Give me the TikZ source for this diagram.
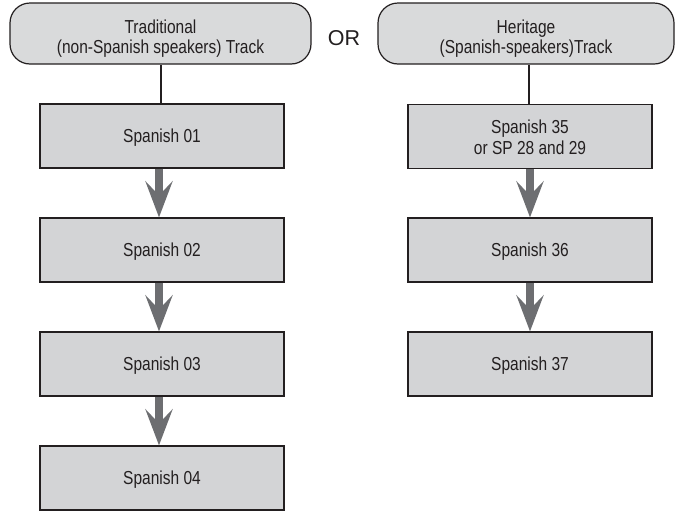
\documentclass[tikz,border=0pt]{standalone}
\usepackage{fontspec}
\setmainfont{Liberation Sans}[FakeStretch=0.825]
\newfontfamily\orfont{Liberation Sans}
\usetikzlibrary{arrows.meta}
\definecolor{boxgray}{HTML}{D3D4D6}
\definecolor{headgray}{HTML}{D9DADB}
\definecolor{arrowgray}{HTML}{6D6E71}
\definecolor{edgecol}{HTML}{231F20}
\newcommand{\lift}[1]{\rule{0pt}{#1}}
\begin{document}
\begin{tikzpicture}[x=1pt,y=-1pt,
  header/.style={draw=edgecol, line width=1.2pt, fill=headgray, rounded corners=20pt,
    minimum height=61pt, inner sep=0pt, align=center, text=edgecol,
    font=\fontsize{18.8}{20}\selectfont},
  course/.style={draw=edgecol, line width=1.2pt, fill=boxgray, rectangle,
    minimum width=244pt, minimum height=64pt, inner sep=0pt, align=center, text=edgecol,
    font=\fontsize{18.8}{21}\selectfont},
  link/.style={draw=edgecol, line width=1.2pt},
  flow/.style={arrowgray, line width=8.5pt, -{Stealth[length=36pt,width=27pt,inset=14pt]}}
]
\useasboundingbox (0,0) rectangle (675,512);
\fill[white] (0,0) rectangle (675,512);

\node[header, minimum width=301pt] (th) at (160.5,33.5) {\lift{23pt}Traditional\\(non-Spanish speakers) Track};
\node[header, minimum width=296pt] (hh) at (526,33.5) {\lift{23pt}Heritage\\(Spanish-speakers)Track};
\node[text=edgecol, font=\orfont\fontsize{21.5}{24}\selectfont, inner sep=0pt] (or) at (344,38.5) {OR};

\node[course] (s01) at (162,136) {\lift{17.4pt}Spanish 01};
\node[course] (s02) at (162,250) {\lift{17.4pt}Spanish 02};
\node[course] (s03) at (162,364) {\lift{17.4pt}Spanish 03};
\node[course] (s04) at (162,478) {\lift{17.4pt}Spanish 04};

\node[course] (s35) at (530,136.5) {\lift{16pt}Spanish 35\\or SP 28 and 29};
\node[course] (s36) at (530,250) {\lift{17.4pt}Spanish 36};
\node[course] (s37) at (530,364) {\lift{17.4pt}Spanish 37};

\draw[link] ([xshift=-1pt]s01.north) -- ([xshift=-1pt]s01.north |- th.south);
\draw[link] ([xshift=-1pt]s35.north) -- ([xshift=-1pt]s35.north |- hh.south);

\draw[flow] ([xshift=-3pt]s01.south) -- ([xshift=-3pt]s02.north);
\draw[flow] ([xshift=-3pt]s02.south) -- ([xshift=-3pt]s03.north);
\draw[flow] ([xshift=-3pt]s03.south) -- ([xshift=-3pt]s04.north);
\draw[flow] (s35.south) -- (s36.north);
\draw[flow] (s36.south) -- (s37.north);
\end{tikzpicture}
\end{document}
